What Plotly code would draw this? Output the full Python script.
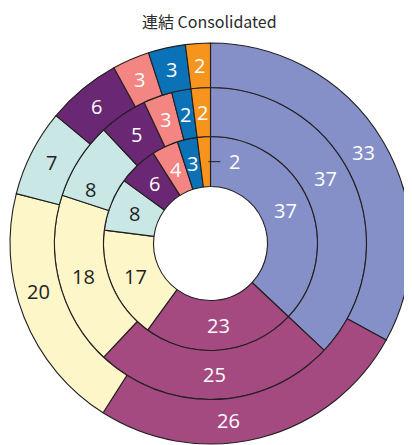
import math
import plotly.graph_objects as go

# ---- data (clockwise from 12 o'clock) ----
segments = ["A", "B", "C", "D", "E", "F", "G", "H"]
inner_values = [37, 23, 17, 8, 6, 4, 3, 2]
middle_values = [37, 25, 18, 8, 5, 3, 2, 2]
outer_values = [33, 26, 20, 7, 6, 3, 3, 2]
title_text = "連結 Consolidated"

# ---- styles ----
colors = ["#8490c7", "#a54a80", "#fcf6c9", "#c8e7e5", "#6a2773", "#f38582", "#0b72b8", "#f7941e"]
text_colors = ["#ffffff", "#ffffff", "#231f20", "#231f20", "#ffffff", "#ffffff", "#ffffff", "#ffffff"]
PAGE_OFF = 8                    # default body margin of the html page
W, H = 412 - PAGE_OFF, 445 - PAGE_OFF
CX, CY = 210.5 - PAGE_OFF, 243.5 - PAGE_OFF   # pixel centre inside the figure
R_HOLE, R1, R2, R3 = 57, 107, 156, 200.5
FONT = "Open Sans"
FS = 20
# label angle nudges (degrees) for a few labels placed off mid-angle in the original
label_nudge = {(1, 0): -6.0, (1, 3): -8.0, (2, 1): 8.5, (2, 2): 6.0}

rings = [
    (inner_values, R_HOLE, R1),
    (middle_values, R1, R2),
    (outer_values, R2, R3),
]

fig = go.Figure()
annotations = []
shapes = []


def ann(px, py, text, color, size=FS, family=FONT):
    return dict(x=px / W, y=1 - py / H, xref="paper", yref="paper",
                xanchor="center", yanchor="middle", text=text, showarrow=False,
                font=dict(family=family, size=size, color=color))


for ring_idx, (vals, r_in, r_out) in enumerate(rings):
    dom_x = [(CX - r_out) / W, (CX + r_out) / W]
    dom_y = [(H - CY - r_out) / H, (H - CY + r_out) / H]
    fig.add_trace(go.Pie(
        labels=segments, values=vals, sort=False, direction="clockwise", rotation=0,
        hole=r_in / r_out, domain=dict(x=dom_x, y=dom_y),
        marker=dict(colors=colors, line=dict(color="#231f20", width=1.1)),
        textinfo="none", hoverinfo="label+value", showlegend=False,
    ))
    total = sum(vals)
    cum = 0
    rm = (r_in + r_out) / 2
    for j, v in enumerate(vals):
        deg = 360 * (cum + v / 2) / total + label_nudge.get((ring_idx, j), 0)
        ang = math.radians(deg)
        cum += v
        px = CX + rm * math.sin(ang)
        py = CY - rm * math.cos(ang)
        if ring_idx == 0 and j == len(vals) - 1:
            # small slice: label outside with leader line
            shapes.append(dict(type="line", xref="paper", yref="paper",
                               x0=(px + 3) / W, x1=(px + 15) / W,
                               y0=1 - py / H, y1=1 - py / H,
                               line=dict(color="#231f20", width=1)))
            annotations.append(ann(px + 29, py, str(v), "#ffffff"))
            continue
        annotations.append(ann(px, py, str(v), text_colors[j]))

title_ann = ann(209 - PAGE_OFF, 0, title_text, "#2b2b2b", size=16,
                family="Noto Sans CJK JP, Noto Sans")
title_ann.update(y=1, yanchor="top", borderpad=0)
annotations.append(title_ann)

fig.update_layout(
    width=W, height=H, margin=dict(l=0, r=0, t=0, b=0),
    paper_bgcolor="#ffffff", plot_bgcolor="#ffffff",
    annotations=annotations, shapes=shapes,
)

fig.write_html("out.html")
